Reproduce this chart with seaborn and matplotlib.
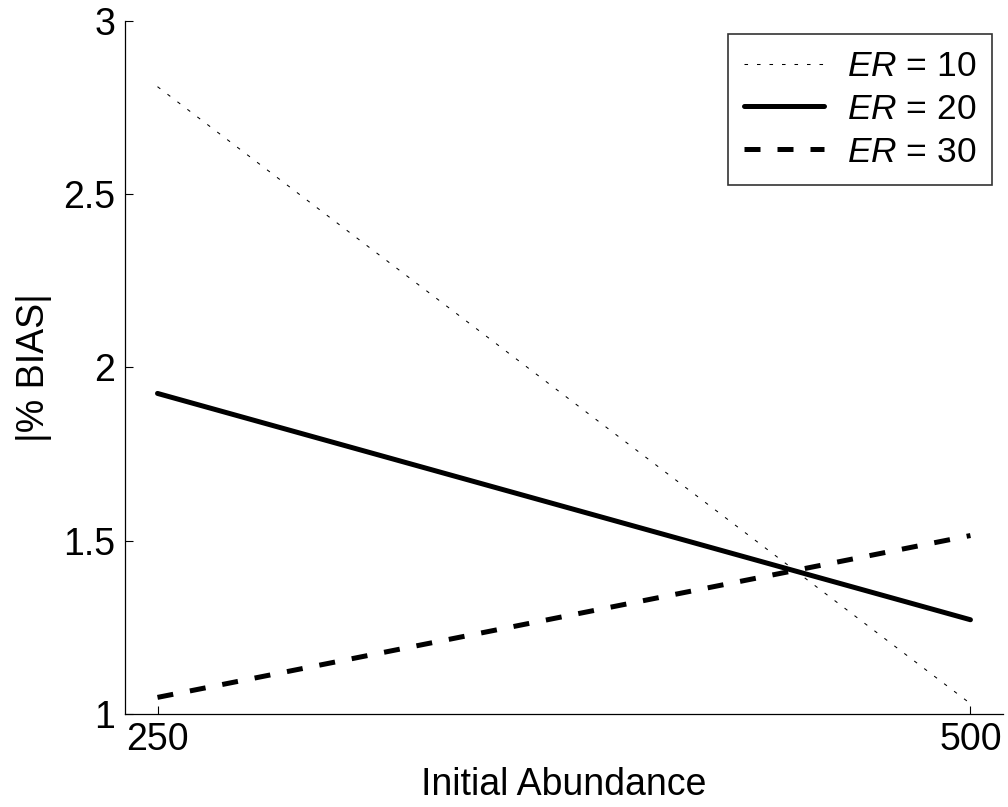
import matplotlib
matplotlib.use("Agg")
import matplotlib.pyplot as plt
import seaborn as sns
import pandas as pd

abundance = [250, 500]
bias_er10 = [2.81, 1.03]
bias_er20 = [1.925, 1.272]
bias_er30 = [1.048, 1.515]
labels = ["$\\mathit{ER}$ = 10", "$\\mathit{ER}$ = 20", "$\\mathit{ER}$ = 30"]

sns.set_style("white")
plt.rcParams["font.family"] = ["Liberation Sans", "DejaVu Sans"]
plt.rcParams["mathtext.fontset"] = "custom"
plt.rcParams["mathtext.it"] = "Liberation Sans:italic"
plt.rcParams["mathtext.rm"] = "Liberation Sans"
plt.rcParams["text.color"] = "black"
plt.rcParams["axes.labelcolor"] = "black"

df = pd.DataFrame({
    "abundance": abundance * 3,
    "bias": bias_er10 + bias_er20 + bias_er30,
    "series": [labels[0]] * 2 + [labels[1]] * 2 + [labels[2]] * 2,
})

fig = plt.figure(figsize=(10.08, 8.07), dpi=100)
ax = fig.add_axes([0.124, 0.1152, 0.871, 0.859])

# line style per series: (dash pattern, linewidth)
styles = {
    labels[0]: ((0, (3.4, 8.6)), 0.75),
    labels[1]: ("-", 3.6),
    labels[2]: ((0, (3.2, 3.4)), 3.6),
}
for lab in labels:
    sub = df[df["series"] == lab]
    ls, lw = styles[lab]
    sns.lineplot(data=sub, x="abundance", y="bias", ax=ax, color="black",
                 linestyle=ls, linewidth=lw, label=lab)

ax.set_xlim(240, 510)
ax.set_ylim(1, 3)
ax.set_xticks([250, 500])
ax.set_yticks([1, 1.5, 2, 2.5, 3])
ax.set_yticklabels(["1", "1.5", "2", "2.5", "3"])
ax.tick_params(bottom=True, left=True, direction="in", length=6, width=0.8,
               labelsize=27, colors="black")
ax.tick_params(axis="y", pad=7)
ax.tick_params(axis="x", pad=6)
ax.set_xlabel("Initial Abundance", fontsize=27, labelpad=6.5)
ax.set_ylabel("|% BIAS|", fontsize=27, labelpad=8)
for s in ["top", "right"]:
    ax.spines[s].set_visible(False)
for s in ["left", "bottom"]:
    ax.spines[s].set_color("black")
    ax.spines[s].set_linewidth(0.9)

leg = ax.legend(loc="upper right", fontsize=25.5, frameon=True, fancybox=False,
                edgecolor="black", handlelength=2.25, borderpad=0.45,
                labelspacing=0.28, handletextpad=0.65,
                bbox_to_anchor=(992 / 1008, 1 - 34 / 807),
                bbox_transform=fig.transFigure, borderaxespad=0)
leg.get_frame().set_linewidth(1.2)

fig.savefig("out.png", dpi=100)
